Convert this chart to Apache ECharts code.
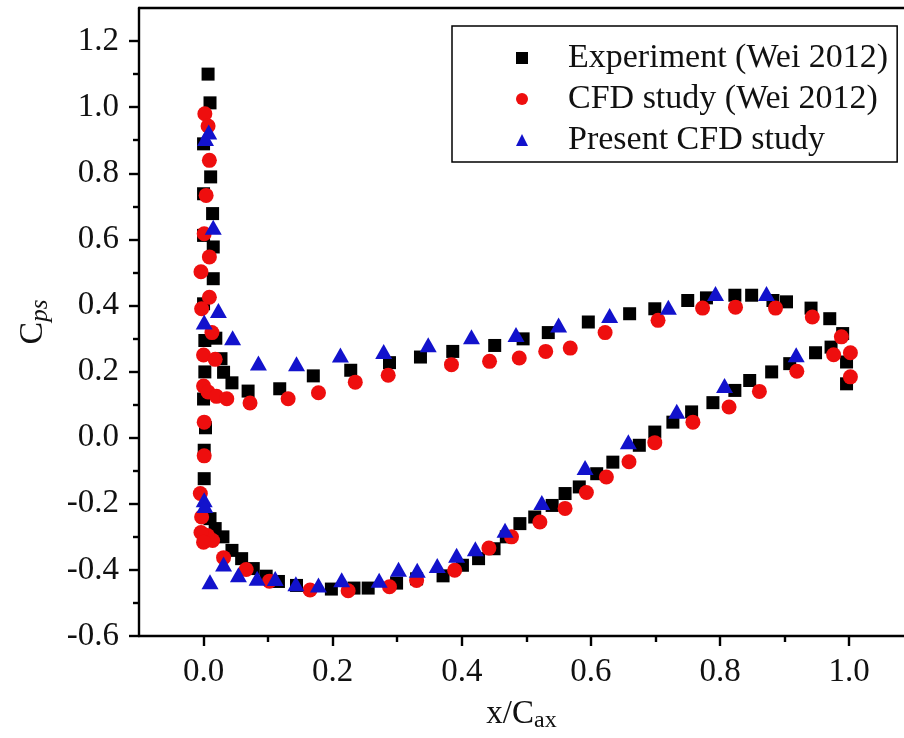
<!DOCTYPE html>
<html>
<head>
<meta charset="utf-8">
<script src="https://cdn.jsdelivr.net/npm/echarts@6/dist/echarts.min.js"></script>
<style>
html,body{margin:0;padding:0;background:#fff;}
#chart{width:904px;height:738px;}
</style>
</head>
<body>
<div id="chart"></div>
<script>
// ---- Data (x/Cax, Cps) ----
const experiment = [
  [0.007,1.100],[0.010,1.013],[0.000,0.889],[0.011,0.789],[0.000,0.738],[0.014,0.678],
  [0.000,0.612],[0.015,0.577],[0.015,0.481],[0.000,0.405],[0.002,0.294],[0.019,0.301],
  [0.027,0.239],[0.002,0.199],[0.031,0.198],[0.044,0.166],[0.069,0.141],[0.118,0.148],
  [0.170,0.187],[0.000,0.117],[0.003,0.030],[0.001,-0.038],[0.001,-0.124],
  [0.010,-0.245],[0.018,-0.275],[0.030,-0.300],[0.044,-0.341],[0.059,-0.366],[0.077,-0.396],
  [0.097,-0.419],[0.116,-0.435],[0.144,-0.447],[0.198,-0.458],[0.233,-0.455],[0.255,-0.455],
  [0.299,-0.440],[0.330,-0.427],[0.371,-0.418],[0.401,-0.386],[0.426,-0.366],[0.450,-0.336],
  [0.469,-0.300],[0.490,-0.260],[0.513,-0.240],[0.540,-0.205],[0.560,-0.169],[0.582,-0.149],
  [0.609,-0.109],[0.634,-0.074],[0.675,-0.023],[0.699,0.017],[0.727,0.047],[0.756,0.078],
  [0.789,0.106],[0.823,0.143],[0.846,0.173],[0.880,0.199],[0.908,0.224],[0.948,0.257],
  [0.972,0.274],[0.996,0.163],[0.996,0.229],[0.990,0.315],[0.970,0.360],[0.941,0.392],
  [0.903,0.411],[0.882,0.415],[0.849,0.431],[0.823,0.431],[0.779,0.423],[0.750,0.415],
  [0.699,0.390],[0.660,0.375],[0.596,0.350],[0.534,0.318],[0.495,0.299],[0.451,0.279],
  [0.386,0.261],[0.336,0.244],[0.288,0.227],[0.228,0.204]
];
const cfdWei = [
  [0.002,0.980],[0.007,0.943],[0.009,0.839],[0.004,0.733],[0.001,0.617],[0.009,0.547],
  [-0.004,0.502],[0.009,0.425],[-0.003,0.390],[0.013,0.318],[0.000,0.250],[0.018,0.237],
  [0.000,0.156],[0.007,0.138],[0.020,0.125],[0.036,0.118],[0.072,0.105],[0.131,0.118],
  [0.178,0.136],[0.235,0.168],[0.286,0.189],[0.384,0.221],[0.443,0.231],[0.489,0.241],
  [0.530,0.261],[0.568,0.271],[0.622,0.318],[0.704,0.355],[0.773,0.392],[0.824,0.395],
  [0.886,0.392],[0.943,0.365],[0.988,0.305],[1.002,0.257],[1.002,0.184],[0.976,0.251],
  [0.919,0.201],[0.861,0.140],[0.814,0.093],[0.758,0.047],[0.699,-0.015],[0.659,-0.073],
  [0.624,-0.119],[0.593,-0.166],[0.560,-0.214],[0.521,-0.255],[0.477,-0.300],[0.442,-0.334],
  [0.389,-0.401],[0.330,-0.432],[0.288,-0.451],[0.224,-0.463],[0.165,-0.461],[0.102,-0.434],
  [0.066,-0.399],[0.031,-0.363],[0.014,-0.311],[0.006,-0.296],[-0.004,-0.287],[0.000,-0.316],
  [-0.003,-0.240],[-0.005,-0.169],[0.001,-0.055],[0.001,0.047]
];
const presentCfd = [
  [0.003,0.905],[0.008,0.925],[0.015,0.637],[0.023,0.385],[0.001,0.350],[0.045,0.302],
  [0.085,0.226],[0.144,0.224],[0.212,0.250],[0.279,0.261],[0.348,0.281],[0.415,0.305],
  [0.484,0.312],[0.550,0.341],[0.629,0.370],[0.720,0.395],[0.793,0.436],[0.872,0.436],
  [0.918,0.251],[0.807,0.158],[0.733,0.080],[0.658,-0.012],[0.591,-0.090],[0.524,-0.196],
  [0.467,-0.280],[0.421,-0.336],[0.392,-0.356],[0.362,-0.387],[0.331,-0.401],[0.302,-0.398],
  [0.272,-0.431],[0.214,-0.430],[0.178,-0.446],[0.143,-0.442],[0.111,-0.426],[0.083,-0.425],
  [0.054,-0.415],[0.031,-0.382],[0.010,-0.436],[0.001,-0.188],[0.002,-0.205]
];
const seriesNames = ['Experiment (Wei 2012)', 'CFD study (Wei 2012)', 'Present CFD study'];
const xTicks = [0.0, 0.2, 0.4, 0.6, 0.8, 1.0];
const xMinorTicks = [0.1, 0.3, 0.5, 0.7, 0.9];
const yTicks = [-0.6, -0.4, -0.2, 0.0, 0.2, 0.4, 0.6, 0.8, 1.0, 1.2];
const yMinorTicks = [-0.5, -0.3, -0.1, 0.1, 0.3, 0.5, 0.7, 0.9, 1.1];
const xRange = [-0.1, 1.085];
const yRange = [-0.6, 1.3];

// ---- Chart ----
const FONT = '"Liberation Serif", "Times New Roman", serif';
const chart = echarts.init(document.getElementById('chart'), null, {renderer: 'canvas'});
const lineStyle = {color: '#000', width: 2.4};
const fmt = v => v.toFixed(1);

const option = {
  backgroundColor: '#fff',
  animation: false,
  grid: {left: 139, top: 8, right: 0, bottom: 100, containLabel: false},
  xAxis: [
    {
      type: 'value', min: xRange[0], max: xRange[1], position: 'bottom',
      axisLine: {show: true, onZero: false, lineStyle: lineStyle},
      axisTick: {show: true, inside: false, length: 10, lineStyle: {color: '#000', width: 2.4}, customValues: xTicks},
      axisLabel: {show: true, margin: 20, fontFamily: FONT, fontSize: 33, color: '#111', formatter: fmt, customValues: xTicks},
      splitLine: {show: false},
      name: '{a|x/C}{b|ax}', nameLocation: 'middle', nameGap: 59,
      nameTextStyle: {rich: {
        a: {fontFamily: FONT, fontSize: 33, color: '#111'},
        b: {fontFamily: FONT, fontSize: 24, color: '#111', verticalAlign: 'bottom', padding: [14, 0, 0, 0]}
      }}
    },
    {
      type: 'value', min: xRange[0], max: xRange[1], position: 'bottom',
      axisLine: {show: false, onZero: false},
      axisTick: {show: true, inside: false, length: 6, lineStyle: {color: '#000', width: 2.4}, customValues: xMinorTicks},
      axisLabel: {show: false}, splitLine: {show: false}
    },
    {
      type: 'value', min: xRange[0], max: xRange[1], position: 'top',
      axisLine: {show: true, onZero: false, lineStyle: lineStyle},
      axisTick: {show: false}, axisLabel: {show: false}, splitLine: {show: false}
    }
  ],
  yAxis: [
    {
      type: 'value', min: yRange[0], max: yRange[1], position: 'left',
      axisLine: {show: true, onZero: false, lineStyle: lineStyle},
      axisTick: {show: true, inside: false, length: 10, lineStyle: {color: '#000', width: 2.4}, customValues: yTicks},
      axisLabel: {show: true, margin: 20, fontFamily: FONT, fontSize: 33, color: '#111', formatter: fmt, customValues: yTicks},
      splitLine: {show: false},
      name: '{a|C}{b|ps}', nameLocation: 'middle', nameRotate: 90, nameGap: 86,
      nameTextStyle: {rich: {
        a: {fontFamily: FONT, fontSize: 34, color: '#111'},
        b: {fontFamily: FONT, fontSize: 25, fontStyle: 'italic', color: '#111', padding: [14, 0, 0, 0]}
      }}
    },
    {
      type: 'value', min: yRange[0], max: yRange[1], position: 'left',
      axisLine: {show: false, onZero: false},
      axisTick: {show: true, inside: false, length: 6, lineStyle: {color: '#000', width: 2.4}, customValues: yMinorTicks},
      axisLabel: {show: false}, splitLine: {show: false}
    }
  ],
  legend: {
    orient: 'vertical', left: 452, top: 26,
    itemWidth: 12, itemHeight: 12, itemGap: 7,
    padding: [15, 9, 5, 64],
    borderColor: '#000', borderWidth: 1.5,
    textStyle: {fontFamily: FONT, fontSize: 34, color: '#111', padding: [0, 0, 0, 35]},
    data: [
      {name: seriesNames[0], icon: 'rect'},
      {name: seriesNames[1], icon: 'circle'},
      {name: seriesNames[2], icon: 'triangle'}
    ]
  },
  series: [
    {name: seriesNames[0], type: 'scatter', xAxisIndex: 0, yAxisIndex: 0, data: experiment,
     symbol: 'rect', symbolSize: 13, itemStyle: {color: '#000', opacity: 1}},
    {name: seriesNames[1], type: 'scatter', xAxisIndex: 0, yAxisIndex: 0, data: cfdWei,
     symbol: 'circle', symbolSize: 15, itemStyle: {color: '#ee0e0e', opacity: 1}},
    {name: seriesNames[2], type: 'scatter', xAxisIndex: 0, yAxisIndex: 0, data: presentCfd,
     symbol: 'triangle', symbolSize: [17, 15], itemStyle: {color: '#1212cc', opacity: 1}}
  ]
};
chart.setOption(option);
</script>
</body>
</html>
